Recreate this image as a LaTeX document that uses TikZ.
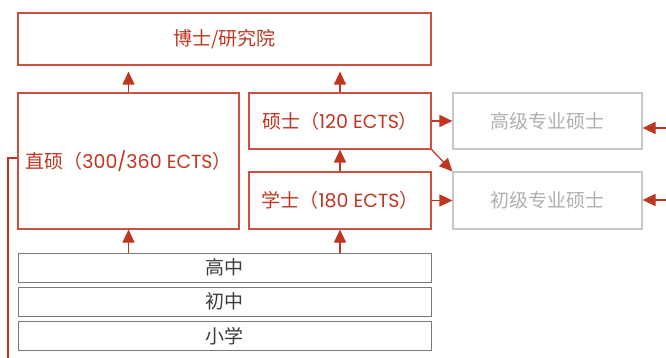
\documentclass[tikz,border=0pt]{standalone}
\usepackage{fontspec}
\setmainfont{Noto Sans CJK SC}
\newfontfamily\latinf{Poppins}
\usetikzlibrary{arrows.meta}
\definecolor{myred}{RGB}{192,52,32}
\definecolor{boxred}{RGB}{205,80,65}
\definecolor{lgray}{RGB}{200,200,200}
\definecolor{ltext}{RGB}{175,175,175}
\definecolor{dgray}{RGB}{120,120,120}
\definecolor{dtext}{RGB}{60,60,60}
\newcommand{\lt}[1]{{\latinf #1}}
\begin{document}
\begin{tikzpicture}[x=1pt,y=-1pt,
  redbox/.style={draw=boxred,line width=1.2pt,text=myred,font=\fontsize{19}{21}\selectfont,inner sep=0pt},
  graybox/.style={draw=lgray,line width=1.2pt,text=ltext,font=\fontsize{19}{21}\selectfont,inner sep=0pt},
  basebox/.style={draw=dgray,line width=1pt,text=dtext,font=\fontsize{19}{21}\selectfont,inner sep=0pt},
  arr/.style={draw=myred,line width=1.2pt,-{Triangle[length=13pt,width=12pt]},color=myred},
  lin/.style={draw=myred,line width=1.2pt}]
\useasboundingbox (0,0) rectangle (666,358);
\node[redbox,minimum width=413pt,minimum height=52pt] (phd) at (224.5,39) {博士/研究院};
\node[redbox,minimum width=221pt,minimum height=136pt] (zs) at (128.5,161) {直硕（\lt{300/360 ECTS}）};
\node[redbox,minimum width=182pt,minimum height=56pt] (ms) at (340,121) {硕士（\lt{120 ECTS}）};
\node[redbox,minimum width=182pt,minimum height=57pt] (bs) at (340,200.5) {学士（\lt{180 ECTS}）};
\node[graybox,minimum width=189pt,minimum height=56pt] (gj) at (547.5,121) {高级专业硕士};
\node[graybox,minimum width=189pt,minimum height=57pt] (cj) at (547.5,200.5) {初级专业硕士};
\node[basebox,minimum width=413pt,minimum height=29pt] (gz) at (224.5,267.5) {高中};
\node[basebox,minimum width=413pt,minimum height=29pt] (cz) at (224.5,301.5) {初中};
\node[basebox,minimum width=413pt,minimum height=29pt] (xx) at (224.5,336) {小学};
% arrows
\draw[arr,shorten >=6pt] (zs.north) -- (zs.north |- phd.south);
\draw[arr,shorten >=6pt] (ms.north) -- (ms.north |- phd.south);
\draw[arr] (bs.north) -- (ms.south);
\draw[arr] (gz.north -| zs.south) -- (zs.south);
\draw[arr] (gz.north -| bs.south) -- (bs.south);
\draw[arr] (ms.east) -- (gj.west);
\draw[arr] (bs.east) -- (cj.west);
\draw[arr] (ms.south east) -- (cj.north west);
\coordinate (r1) at (666,128);
\coordinate (r2) at (666,200);
\draw[arr] (r1) -- (r1 -| gj.east);
\draw[arr] (r2) -- (r2 -| cj.east);
\coordinate (lb) at (8,358);
\coordinate (lt) at (8,158);
\draw[lin] (lb) -- (lt) -- (lt -| zs.west);
\end{tikzpicture}
\end{document}
